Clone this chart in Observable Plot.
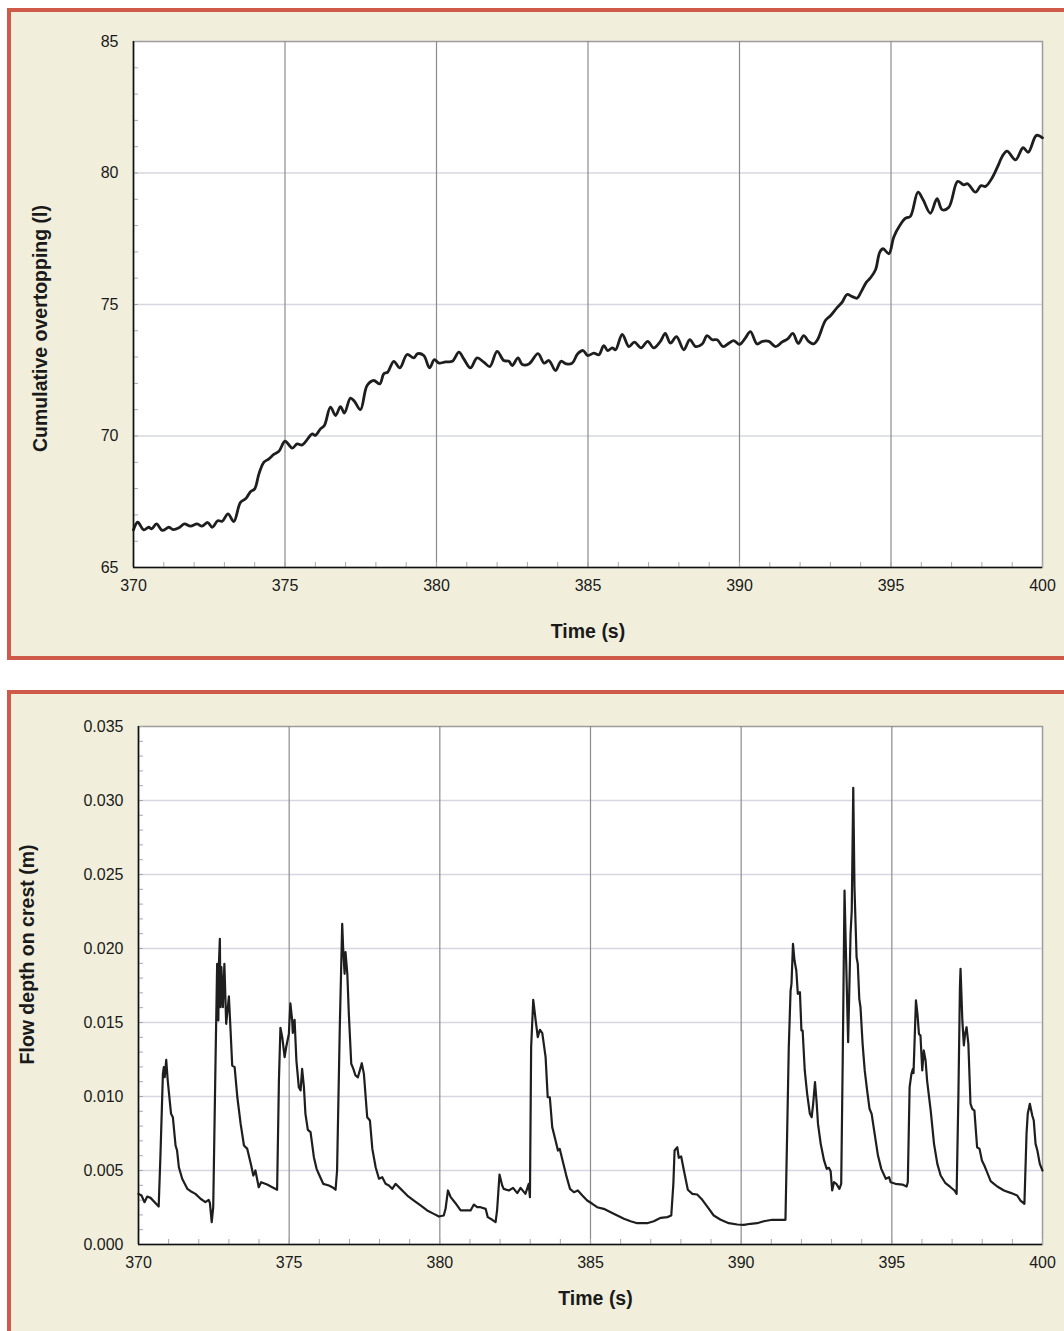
<!DOCTYPE html>
<html>
<head>
<meta charset="utf-8">
<script src="https://cdn.jsdelivr.net/npm/d3@7"></script>
<script src="https://cdn.jsdelivr.net/npm/@observablehq/plot@0.6"></script>
<style>
  html, body { margin: 0; padding: 0; background: #ffffff; }
  body { width: 1064px; height: 1331px; overflow: hidden; position: relative; font-family: "Liberation Sans", Arial, sans-serif; }
  .panel { position: absolute; box-sizing: border-box; border: 4px solid #cf5a49; background: #f1efdc; }
  #p1 { left: 7px; top: 8px; width: 1120px; height: 652px; }
  #p2 { left: 7px; top: 690px; width: 1120px; height: 700px; }
  .chart { position: absolute; left: 0; }
  #c1 { top: 0; }
  #c2 { top: 680px; }
</style>
</head>
<body>
<div class="panel" id="p1"></div>
<div class="panel" id="p2"></div>
<div class="chart" id="c1"></div>
<div class="chart" id="c2"></div>
<script>
// ---------- Data ----------
const xTicks = [370, 375, 380, 385, 390, 395, 400];
const xMinorTicks = d3.range(370, 401, 1);
const yTicksTop = [65, 70, 75, 80, 85];
const yMinorTop = d3.range(65, 86, 1);
const yTicksBottom = [0, 0.005, 0.010, 0.015, 0.020, 0.025, 0.030, 0.035];
const yMinorBottom = d3.range(0, 36, 1).map(d => d / 1000);
const xLabel = "Time (s)";
const yLabelTop = "Cumulative overtopping (l)";
const yLabelBottom = "Flow depth on crest (m)";

const timeTop = [370.0,370.14,370.34,370.5,370.6,370.76,370.95,371.17,371.31,371.5,371.68,371.88,372.1,372.26,372.45,372.6,372.78,372.93,373.12,373.31,373.53,373.7,373.86,374.0,374.14,374.3,374.47,374.63,374.8,375.0,375.24,375.4,375.57,375.9,376.0,376.17,376.3,376.5,376.67,376.83,376.96,377.16,377.29,377.49,377.71,377.93,378.13,378.26,378.39,378.59,378.79,379.03,379.25,379.38,379.58,379.77,379.93,380.08,380.3,380.52,380.74,380.9,381.12,381.34,381.56,381.76,382.0,382.22,382.39,382.5,382.69,382.83,383.05,383.35,383.55,383.71,383.93,384.11,384.29,384.48,384.66,384.84,384.99,385.19,385.36,385.52,385.65,385.8,385.91,386.13,386.35,386.53,386.75,386.97,387.17,387.39,387.55,387.72,387.92,388.16,388.36,388.55,388.77,388.93,389.1,389.26,389.46,389.65,389.81,390.0,390.18,390.36,390.58,390.76,390.97,391.19,391.41,391.59,391.76,391.94,392.12,392.28,392.45,392.57,392.84,393.01,393.22,393.39,393.55,393.72,393.88,394.01,394.19,394.32,394.49,394.63,394.74,394.93,395.09,395.29,395.48,395.64,395.89,396.06,396.3,396.52,396.69,396.91,397.2,397.4,397.53,397.79,397.97,398.12,398.34,398.56,398.67,398.83,399.11,399.36,399.53,399.8,400.0];
const overtopping = [66.43,66.72,66.43,66.53,66.47,66.66,66.41,66.53,66.44,66.51,66.66,66.57,66.66,66.57,66.71,66.53,66.78,66.76,67.04,66.75,67.48,67.61,67.88,67.99,68.56,69.0,69.13,69.3,69.42,69.8,69.54,69.7,69.66,70.08,70.02,70.27,70.4,71.1,70.78,71.12,70.87,71.44,71.32,71.0,71.92,72.11,71.98,72.37,72.43,72.84,72.59,73.1,72.97,73.13,73.06,72.59,72.9,72.77,72.82,72.84,73.19,72.93,72.59,72.97,72.81,72.64,73.22,72.87,72.84,72.68,72.97,72.72,72.74,73.13,72.77,72.87,72.49,72.84,72.74,72.77,73.13,73.25,73.06,73.15,73.09,73.44,73.25,73.35,73.28,73.86,73.4,73.57,73.35,73.6,73.35,73.6,73.9,73.53,73.78,73.28,73.66,73.4,73.5,73.82,73.66,73.66,73.4,73.53,73.63,73.48,73.7,73.97,73.5,73.6,73.6,73.4,73.58,73.69,73.9,73.52,73.82,73.6,73.5,73.65,74.4,74.58,74.88,75.09,75.38,75.3,75.24,75.47,75.85,76.01,76.32,76.99,77.12,76.93,77.56,78.0,78.28,78.35,79.27,78.98,78.47,79.02,78.6,78.7,79.68,79.55,79.59,79.27,79.52,79.49,79.82,80.35,80.63,80.83,80.5,80.96,80.79,81.43,81.34];

const timeBottom = [370.0,370.1,370.2,370.29,370.4,370.67,370.73,370.81,370.84,370.87,370.92,370.97,371.08,371.14,371.23,371.28,371.34,371.45,371.62,371.73,371.89,372.06,372.22,372.33,372.37,372.43,372.48,372.56,372.61,372.65,372.67,372.7,372.72,372.75,372.8,372.85,372.91,373.0,373.05,373.11,373.19,373.28,373.39,373.5,373.61,373.74,373.81,373.88,373.99,374.07,374.27,374.44,374.6,374.66,374.71,374.77,374.85,374.9,374.99,375.04,375.1,375.12,375.18,375.24,375.32,375.38,375.43,375.49,375.54,375.62,375.71,375.82,375.91,375.98,376.13,376.32,376.43,376.54,376.59,376.68,376.76,376.79,376.84,376.87,376.93,376.98,377.06,377.13,377.2,377.28,377.35,377.41,377.48,377.59,377.68,377.76,377.87,377.98,378.09,378.2,378.31,378.42,378.53,378.7,378.92,379.14,379.36,379.58,379.8,379.97,380.13,380.19,380.27,380.36,380.52,380.69,381.02,381.13,381.24,381.35,381.52,381.59,381.74,381.85,381.9,381.98,382.07,382.12,382.29,382.43,382.57,382.68,382.84,382.95,382.99,383.03,383.1,383.18,383.25,383.32,383.4,383.51,383.58,383.65,383.73,383.84,383.92,383.98,384.1,384.21,384.32,384.45,384.58,384.73,384.89,385.06,385.22,385.44,385.67,385.89,386.11,386.33,386.55,386.88,387.1,387.33,387.55,387.68,387.75,387.79,387.88,387.93,388.01,388.1,388.23,388.38,388.54,388.71,388.87,389.09,389.32,389.59,389.87,390.09,390.31,390.53,390.75,391.03,391.25,391.47,391.53,391.58,391.64,391.67,391.72,391.77,391.83,391.88,391.95,392.0,392.04,392.11,392.19,392.28,392.34,392.39,392.45,392.5,392.55,392.64,392.75,392.84,392.91,392.97,393.02,393.08,393.16,393.26,393.32,393.37,393.43,393.47,393.55,393.63,393.67,393.72,393.76,393.83,393.87,393.92,393.96,394.03,394.1,394.18,394.26,394.33,394.43,394.54,394.65,394.8,394.91,394.96,395.12,395.35,395.49,395.53,395.59,395.65,395.7,395.72,395.8,395.85,395.9,395.95,396.01,396.06,396.12,396.17,396.29,396.4,396.51,396.62,396.78,396.95,397.08,397.15,397.21,397.26,397.28,397.34,397.39,397.43,397.48,397.54,397.61,397.67,397.74,397.83,397.91,397.99,398.07,398.16,398.28,398.39,398.5,398.72,398.94,399.16,399.27,399.4,399.47,399.51,399.58,399.66,399.71,399.77,399.83,399.91,400.0];
const flowDepth = [0.00342,0.00331,0.00286,0.00324,0.00315,0.00257,0.00613,0.01153,0.01198,0.0113,0.01248,0.01108,0.00883,0.0086,0.00669,0.00635,0.00522,0.00444,0.00376,0.0036,0.00342,0.00309,0.00286,0.00302,0.00279,0.00151,0.00252,0.01288,0.01896,0.01514,0.019,0.02065,0.01603,0.01874,0.01603,0.01896,0.01491,0.01676,0.01468,0.01209,0.01198,0.00995,0.00815,0.00669,0.00646,0.00534,0.00466,0.005,0.00387,0.00421,0.00405,0.00387,0.0037,0.01108,0.01464,0.01401,0.01266,0.01333,0.01423,0.0163,0.01514,0.0143,0.01518,0.01243,0.01063,0.01041,0.01187,0.01063,0.00883,0.00775,0.00759,0.0059,0.00511,0.00478,0.0041,0.00399,0.00387,0.0037,0.005,0.01468,0.02167,0.02009,0.01829,0.01975,0.01829,0.01559,0.01221,0.01187,0.01142,0.0113,0.0118,0.01225,0.01153,0.0086,0.00838,0.00646,0.00522,0.00444,0.00455,0.0041,0.00399,0.00376,0.0041,0.00376,0.00331,0.00297,0.00264,0.0023,0.00207,0.00189,0.00196,0.00241,0.00365,0.0032,0.00279,0.0023,0.0023,0.0027,0.00252,0.00252,0.00241,0.00185,0.00167,0.00151,0.0023,0.00473,0.00399,0.00376,0.00365,0.00383,0.00347,0.00383,0.00342,0.0041,0.0032,0.01333,0.01653,0.01514,0.01401,0.01451,0.01428,0.01266,0.00995,0.00995,0.00793,0.00703,0.00635,0.00646,0.00545,0.00455,0.00376,0.00353,0.00365,0.00331,0.00297,0.00275,0.00252,0.00241,0.00218,0.00196,0.00174,0.00157,0.00144,0.00144,0.00157,0.0018,0.00185,0.00196,0.0041,0.00635,0.00657,0.00586,0.00595,0.005,0.0037,0.00342,0.00338,0.00302,0.00257,0.00196,0.00167,0.00144,0.00135,0.00133,0.0014,0.00144,0.00157,0.00167,0.00167,0.00167,0.00793,0.01333,0.01716,0.01761,0.02032,0.01919,0.01851,0.01694,0.01705,0.01446,0.01446,0.01176,0.01018,0.00883,0.0086,0.00951,0.01097,0.00973,0.00815,0.0068,0.00568,0.00511,0.00518,0.00495,0.00365,0.00421,0.0041,0.00376,0.0041,0.01243,0.02392,0.02032,0.01367,0.021,0.02257,0.03086,0.02414,0.01941,0.01896,0.0166,0.01603,0.01356,0.01176,0.01041,0.00917,0.00883,0.00748,0.00601,0.00511,0.00444,0.00455,0.00421,0.0041,0.00405,0.00392,0.00421,0.01063,0.01153,0.01187,0.01158,0.01649,0.01559,0.01423,0.01412,0.01176,0.01311,0.01243,0.01108,0.00905,0.0068,0.00545,0.00466,0.00414,0.00387,0.00365,0.00342,0.01018,0.01739,0.01863,0.01514,0.01345,0.01423,0.01468,0.01356,0.00951,0.00917,0.00905,0.00657,0.00646,0.00568,0.00534,0.00489,0.00428,0.0041,0.00392,0.00365,0.00349,0.00331,0.00297,0.00275,0.00748,0.00883,0.00951,0.00872,0.00838,0.0068,0.00635,0.00545,0.005];

const topData = timeTop.map((t, i) => ({t, v: overtopping[i]}));
const bottomData = timeBottom.map((t, i) => ({t, v: flowDepth[i]}));

// ---------- Chart builder ----------
function makeChart({data, height, marginTop, marginBottom, marginLeft, marginRight, yDomain, yTicks, yMinor, yFormat, yLabel, yLabelDy, xLabelDx, xLabelDy, yLabelOffset, lineWidth, curve}) {
  const fw = 1064 - marginLeft - marginRight;
  const fh = height - marginTop - marginBottom;
  const innerGrid = yTicks.slice(1, -1);
  const innerX = xTicks.slice(1, -1);
  return Plot.plot({
    width: 1064,
    height,
    marginTop, marginBottom, marginLeft, marginRight,
    style: {background: "transparent", fontFamily: "'Liberation Sans', Arial, sans-serif", fontSize: "16px", color: "#1a1a1a", overflow: "visible"},
    x: {domain: [370, 400]},
    y: {domain: yDomain},
    marks: [
      Plot.frame({fill: "white", stroke: "#9c9c9c", strokeWidth: 1.5}),
      Plot.ruleY(innerGrid, {stroke: "#d7d7e0", strokeWidth: 1.3}),
      Plot.ruleX(innerX, {stroke: "#8c8c8c", strokeWidth: 1.2}),
      Plot.ruleY(yMinor, {stroke: "#a8a8a8", strokeWidth: 1, insetRight: fw - 5}),
      Plot.ruleX(xMinorTicks, {stroke: "#a8a8a8", strokeWidth: 1, insetTop: fh - 5}),
      Plot.line(data, {x: "t", y: "v", stroke: "#1e1e1e", strokeWidth: lineWidth, curve, strokeLinejoin: "round"}),
      Plot.ruleX([370], {stroke: "#111", strokeWidth: 1.6}),
      Plot.ruleY([yDomain[0]], {stroke: "#111", strokeWidth: 1.6}),
      Plot.axisY({ticks: yTicks, tickSize: 0, tickPadding: 15, tickFormat: yFormat, label: null}),
      Plot.axisX({ticks: xTicks, tickSize: 0, tickPadding: 12, tickFormat: d => String(d), label: null}),
      Plot.text([yLabel], {text: d => d, frameAnchor: "left", textAnchor: "middle", lineAnchor: "middle", dx: -yLabelOffset, dy: yLabelDy, rotate: -90, fontSize: 19.5, fontWeight: "bold", fill: "#1a1a1a"}),
      Plot.text([xLabel], {text: d => d, frameAnchor: "bottom", textAnchor: "middle", lineAnchor: "middle", dx: xLabelDx, dy: xLabelDy, fontSize: 19.5, fontWeight: "bold", fill: "#1a1a1a"})
    ]
  });
}

document.getElementById("c1").append(makeChart({
  data: topData, height: 660, marginTop: 41, marginBottom: 93, marginLeft: 133, marginRight: 22,
  yDomain: [65, 85], yTicks: yTicksTop, yMinor: yMinorTop, yFormat: d => String(d),
  yLabel: yLabelTop, yLabelDy: 24, yLabelOffset: 93, xLabelDx: 0, xLabelDy: 64, lineWidth: 2.8, curve: "catmull-rom"
}));

document.getElementById("c2").append(makeChart({
  data: bottomData, height: 651, marginTop: 46, marginBottom: 87, marginLeft: 138, marginRight: 22,
  yDomain: [0, 0.035], yTicks: yTicksBottom, yMinor: yMinorBottom, yFormat: d3.format(".3f"),
  yLabel: yLabelBottom, yLabelDy: -31, yLabelOffset: 111, xLabelDx: 5, xLabelDy: 54, lineWidth: 2.2, curve: "linear"
}));
</script>
</body>
</html>
